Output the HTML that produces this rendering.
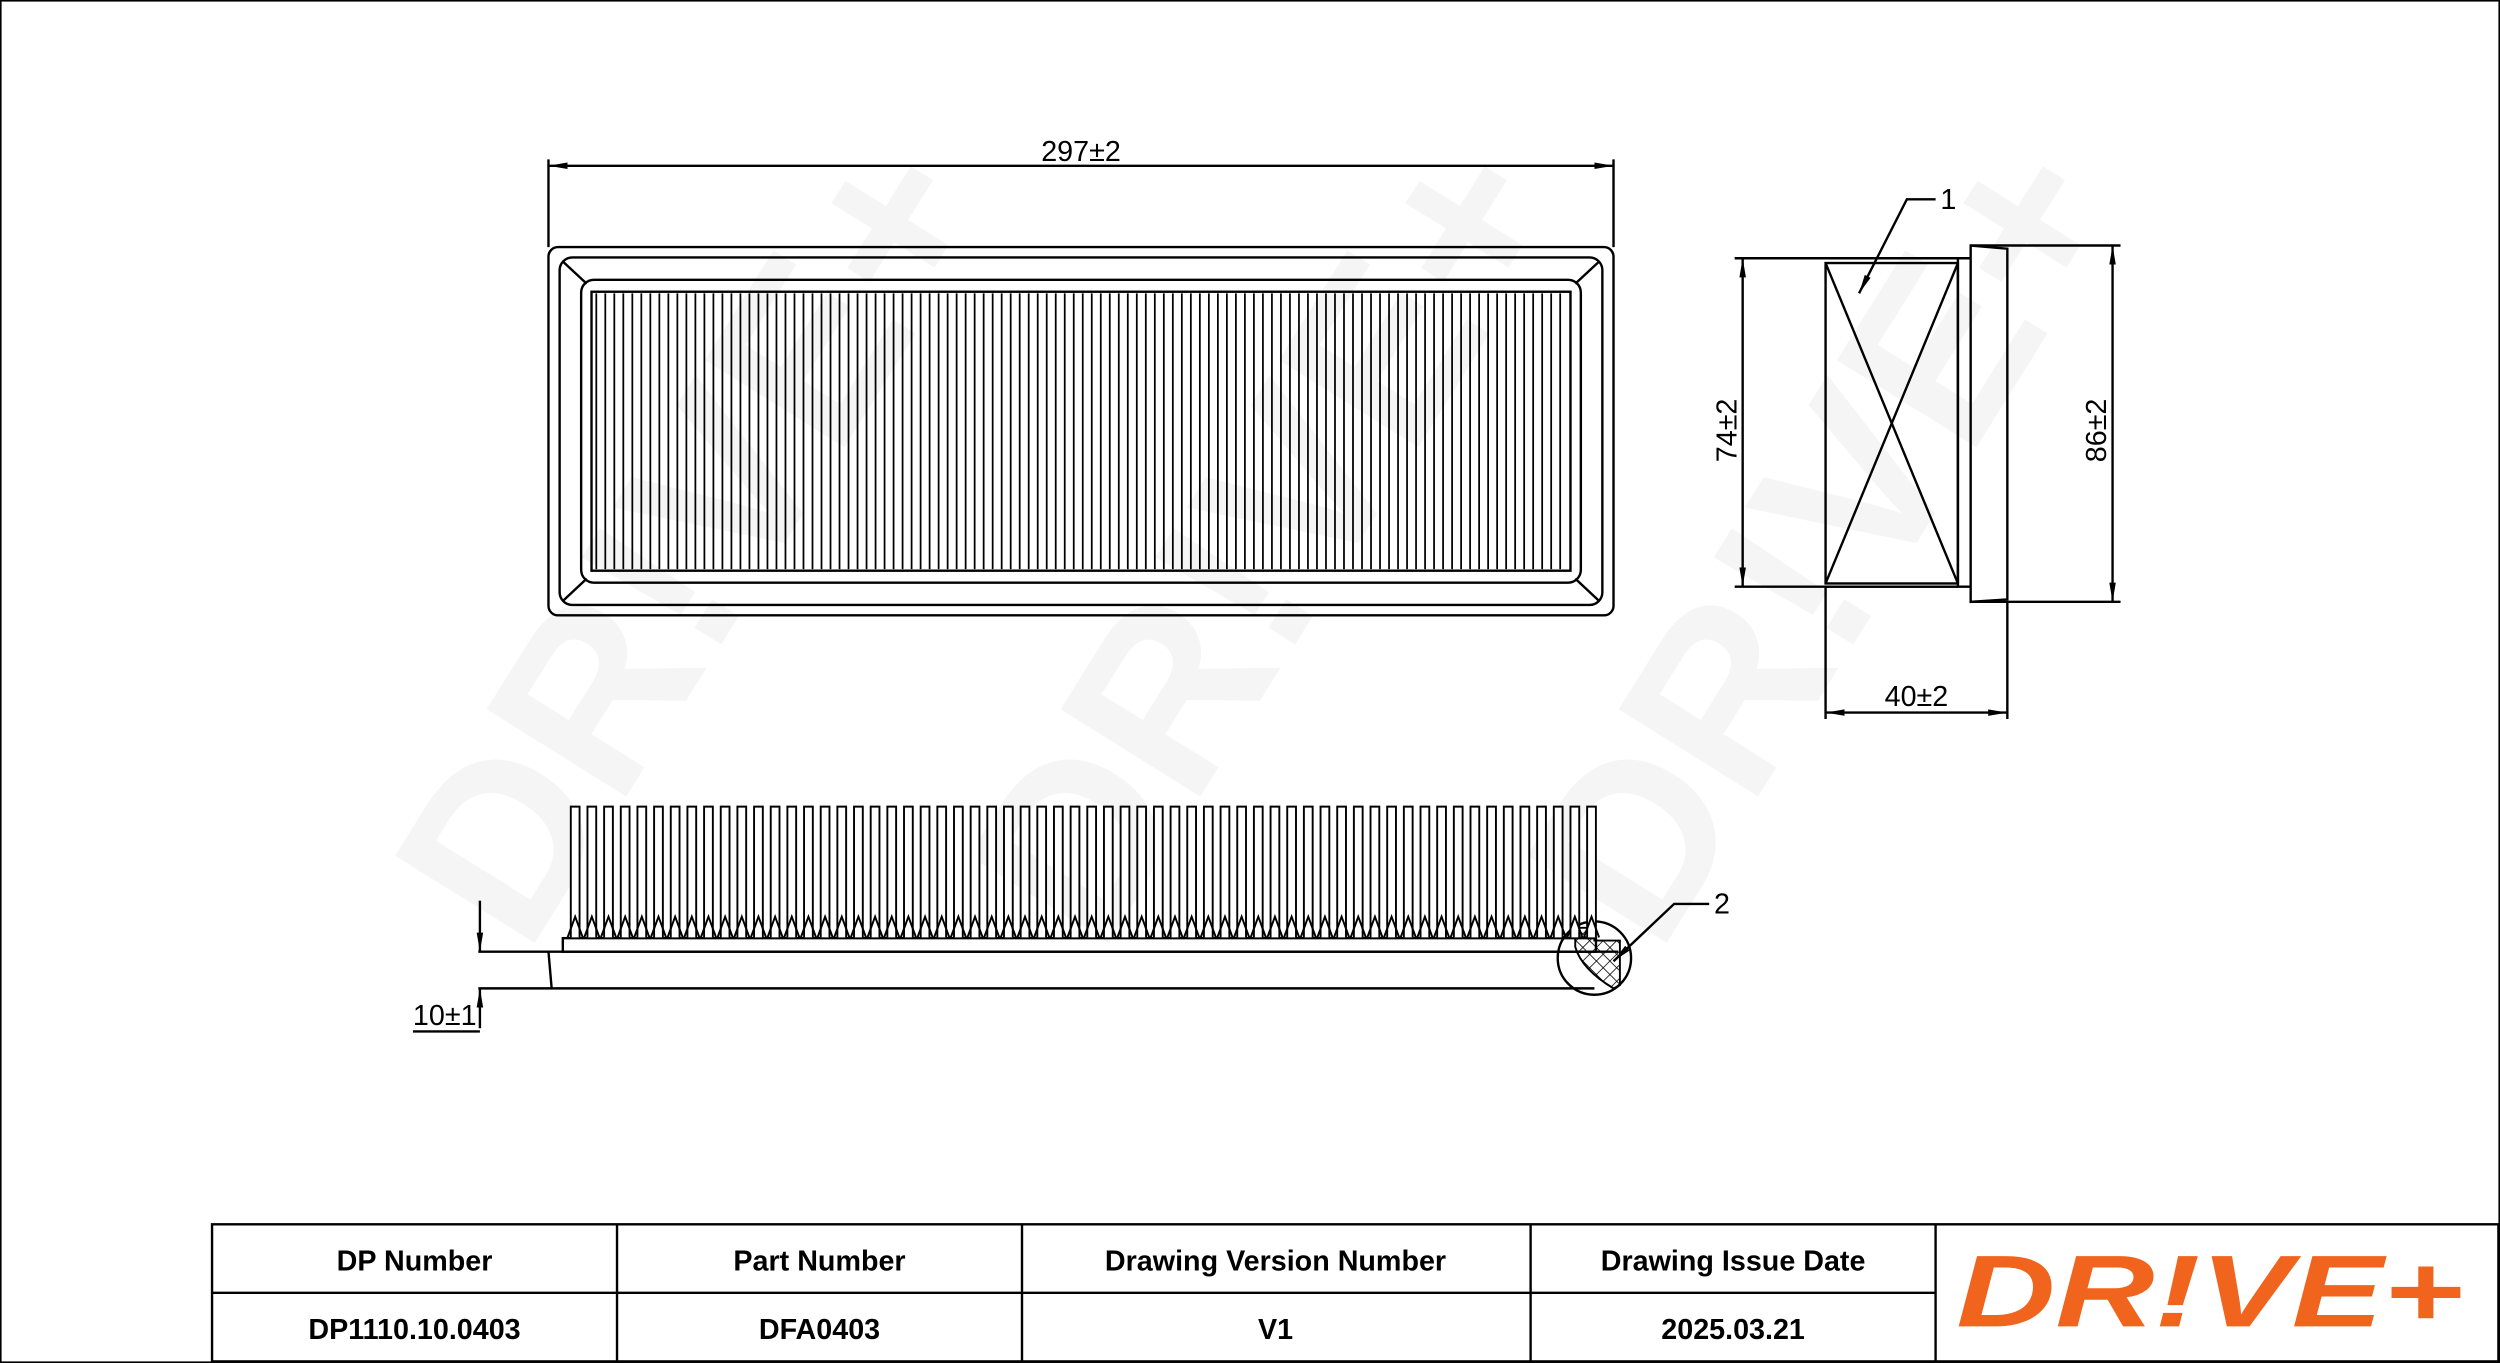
<!DOCTYPE html>
<html><head><meta charset="utf-8"><style>
html,body{margin:0;padding:0;background:#fff;}
svg{display:block;}
text{font-family:"Liberation Sans",sans-serif;fill:#000;}
</style></head><body>
<svg width="2500" height="1363" viewBox="0 0 1568 855" preserveAspectRatio="none" xmlns="http://www.w3.org/2000/svg">
<defs>
<marker id="a" viewBox="0 0 10 10" refX="10" refY="5" markerWidth="12" markerHeight="12" markerUnits="userSpaceOnUse" orient="auto-start-reverse"><path d="M0,3.3 L10,5 L0,6.7 z" fill="#000"/></marker>
<pattern id="h" width="6" height="6" patternUnits="userSpaceOnUse" patternTransform="rotate(45)"><line x1="0" y1="0" x2="0" y2="6" stroke="#000" stroke-width="1"/><line x1="0" y1="0" x2="6" y2="0" stroke="#000" stroke-width="1"/></pattern>
</defs>
<rect x="0.5" y="0.5" width="1567" height="854" fill="#fff" stroke="#000" stroke-width="1"/>
<g font-weight="bold" font-size="150">
<text transform="translate(330,600) rotate(-58)" style="fill:#f5f5f5">DR!VE+</text>
<text transform="translate(690,600) rotate(-58)" style="fill:#f5f5f5">DR!VE+</text>
<text transform="translate(1040,600) rotate(-58)" style="fill:#f5f5f5">DR!VE+</text>
</g>
<g fill="none" stroke="#000" stroke-width="1.5">
<line x1="344" y1="100" x2="344" y2="155"/><line x1="1012" y1="100" x2="1012" y2="155"/>
<line x1="344" y1="104" x2="1012" y2="104" marker-start="url(#a)" marker-end="url(#a)"/>
<rect x="344" y="155" width="668" height="231" rx="6"/>
<rect x="351" y="161.5" width="654" height="218" rx="8"/>
<rect x="364.5" y="175.5" width="627" height="190" rx="8"/>
<line x1="353" y1="164" x2="368" y2="178"/><line x1="1003" y1="164" x2="988" y2="178"/>
<line x1="353" y1="377" x2="368" y2="363"/><line x1="1003" y1="377" x2="988" y2="363"/>
<rect x="371" y="183" width="614" height="175"/>
</g>
<g id="pl" stroke="#000" stroke-width="1.1"></g>
<g fill="none" stroke="#000" stroke-width="1.5">
<line x1="1088" y1="162" x2="1236" y2="162"/><line x1="1088" y1="368" x2="1236" y2="368"/>
<line x1="1093" y1="162" x2="1093" y2="368" marker-start="url(#a)" marker-end="url(#a)"/>
<rect x="1145" y="165" width="83" height="201"/>
<line x1="1145" y1="368" x2="1228" y2="368"/><line x1="1228" y1="162" x2="1228" y2="368"/>
<line x1="1145" y1="165" x2="1228" y2="366"/><line x1="1228" y1="165" x2="1145" y2="366"/>
<path d="M1236,154 L1236,377.5 L1259,376 L1259,156 Z"/>
<line x1="1236" y1="154" x2="1330" y2="154"/><line x1="1236" y1="377.5" x2="1330" y2="377.5"/>
<line x1="1325" y1="154" x2="1325" y2="377.5" marker-start="url(#a)" marker-end="url(#a)"/>
<line x1="1145" y1="368" x2="1145" y2="451"/><line x1="1259" y1="377" x2="1259" y2="451"/>
<line x1="1145" y1="447" x2="1259" y2="447" marker-start="url(#a)" marker-end="url(#a)"/>
<polyline points="1214,125 1196,125 1166,184" marker-end="url(#a)"/>
<rect x="353" y="588.5" width="648" height="8.5"/>
<line x1="300" y1="597" x2="1015" y2="597"/><line x1="300" y1="620" x2="1000" y2="620"/>
<line x1="344" y1="597" x2="346" y2="620"/>
<line x1="301" y1="565" x2="301" y2="597" marker-end="url(#a)"/>
<line x1="301" y1="645" x2="301" y2="620" marker-end="url(#a)"/>
<line x1="259" y1="647" x2="301" y2="647"/>
<circle cx="1000" cy="601" r="23"/>
<polyline points="1072,567 1050,567 1012,603" marker-end="url(#a)"/>
</g>
<path d="M988,582 L1000,582 L1000,590 L1016,590 L1016,618 L1012,620 Q992,608 988,594 Z" fill="url(#h)" stroke="#000" stroke-width="1.2"/>
<g id="bp" fill="#fff" stroke="#000" stroke-width="1.2"></g>
<g font-size="18">
<text x="678" y="101" text-anchor="middle">297±2</text>
<text x="1217" y="131">1</text>
<text x="1075" y="573">2</text>
<text x="1202" y="443" text-anchor="middle">40±2</text>
<text x="259" y="643">10±1</text>
<text transform="translate(1089,270) rotate(-90)" text-anchor="middle">74±2</text>
<text transform="translate(1321,270) rotate(-90)" text-anchor="middle">86±2</text>
</g>
<g fill="none" stroke="#000" stroke-width="1.5">
<rect x="133" y="768" width="1434" height="86"/>
<line x1="133" y1="811" x2="1214" y2="811"/>
<line x1="387" y1="768" x2="387" y2="854"/><line x1="641" y1="768" x2="641" y2="854"/>
<line x1="960" y1="768" x2="960" y2="854"/><line x1="1214" y1="768" x2="1214" y2="854"/>
</g>
<g font-size="18" font-weight="bold" text-anchor="middle">
<text x="260" y="797">DP Number</text><text x="514" y="797">Part Number</text>
<text x="800" y="797">Drawing Version Number</text><text x="1087" y="797">Drawing Issue Date</text>
<text x="260" y="840">DP1110.10.0403</text><text x="514" y="840">DFA0403</text>
<text x="800" y="840">V1</text><text x="1087" y="840">2025.03.21</text>
</g>
<text x="1386" y="832" text-anchor="middle" font-size="64" font-weight="bold" font-style="italic" style="fill:#f0641e" textLength="318" lengthAdjust="spacingAndGlyphs">DR!VE+</text>
<script>
var ns="http://www.w3.org/2000/svg",g=document.getElementById("pl");
for(var x=374;x<984;x+=5.65){var l=document.createElementNS(ns,"line");l.setAttribute("x1",x.toFixed(2));l.setAttribute("x2",x.toFixed(2));l.setAttribute("y1",184);l.setAttribute("y2",357);g.appendChild(l);}
var b=document.getElementById("bp");
for(var x=358;x<1000;x+=10.45){var p=document.createElementNS(ns,"path");
p.setAttribute("d","M"+x+",588 L"+x+",506 L"+(x+5.5)+",506 L"+(x+5.5)+",588");b.appendChild(p);
var t=document.createElementNS(ns,"path");t.setAttribute("d","M"+(x-2)+",588 L"+(x+2.75)+",575 L"+(x+7.5)+",588");t.setAttribute("fill","none");b.appendChild(t);}
</script>
</svg>
</body></html>
